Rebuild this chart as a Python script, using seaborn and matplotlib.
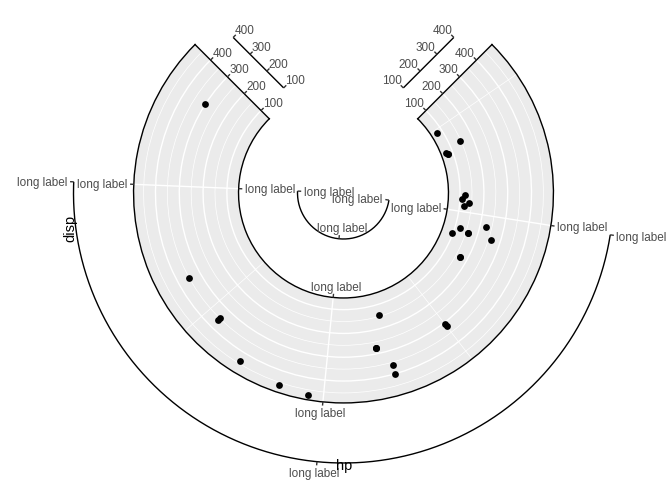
import numpy as np
import pandas as pd
import matplotlib
matplotlib.use("Agg")
import matplotlib.pyplot as plt
import seaborn as sns
from matplotlib.lines import Line2D

# mtcars: horsepower (theta) and displacement (r)
hp = [110, 110, 93, 110, 175, 105, 245, 62, 95, 123, 123, 180, 180, 180,
      205, 215, 230, 66, 52, 65, 97, 150, 150, 245, 175, 66, 91, 113,
      264, 175, 335, 109]
disp = [160, 160, 108, 258, 360, 225, 360, 146.7, 140.8, 167.6, 167.6,
        275.8, 275.8, 275.8, 472, 460, 440, 78.7, 75.7, 71.1, 120.1, 318,
        304, 350, 400, 79, 120.3, 95.1, 351, 145, 301, 121]

theta_breaks = [100, 200, 300]
theta_minor = [50, 150, 250]
theta_labels = ["long label", "long label", "long label"]
r_breaks = [100, 200, 300, 400]
r_minor = [150, 250, 350, 450]
r_labels = ["100", "200", "300", "400"]

cars = pd.DataFrame({"hp": hp, "disp": disp})


def expanded(v, mult=0.05):
    lo, hi = min(v), max(v)
    pad = (hi - lo) * mult
    return lo - pad, hi + pad


h_lo, h_hi = expanded(hp)
r_lo, r_hi = expanded(disp)
START, SPAN = 45.0, 270.0
r_origin = 2 * r_lo - r_hi  # inner radius is half the outer one


def theta_of(v):
    return np.deg2rad(START + (np.asarray(v, float) - h_lo) / (h_hi - h_lo) * SPAN)


cars["theta"] = theta_of(cars["hp"])

sns.set_theme(style="white")
plt.rcParams["font.family"] = ["Liberation Sans", "DejaVu Sans"]

W, H = 672, 480
fig = plt.figure(figsize=(W / 100, H / 100), dpi=100)
CX, CY, R = 343.5, 287, 214  # panel centre (px from bottom left), outer radius
ax = fig.add_axes([(CX - R) / W, 46 / H, 2 * R / W, 2 * R / H], projection="polar")

sns.scatterplot(data=cars, x="theta", y="disp", ax=ax, color="black",
                s=24, linewidth=0, zorder=3)
ax.set_xlabel("")
ax.set_ylabel("")

ax.set_theta_zero_location("N")
ax.set_theta_direction(-1)
ax.set_thetamin(START)
ax.set_thetamax(START + SPAN)
ax.set_rlim(r_lo, r_hi)
ax.set_rorigin(r_origin)

# put the centre of the circle where the reference has it
c = ax.transData.transform((0, r_origin))
pos = ax.get_position()
ax.set_position([pos.x0 + (CX - c[0]) / W, pos.y0 + (CY - c[1]) / H,
                 pos.width, pos.height])

ax.patch.set_facecolor("#EBEBEB")
ax.set_xticks(theta_of(theta_breaks))
ax.set_xticks(theta_of(theta_minor), minor=True)
ax.set_yticks(r_breaks)
ax.set_yticks(r_minor, minor=True)
ax.set_xticklabels([])
ax.set_yticklabels([])
ax.tick_params(which="both", length=0)
ax.set_axisbelow(True)
ax.grid(True, which="major", color="white", linewidth=1.0)
ax.grid(True, which="minor", color="white", linewidth=0.5)
for s in ax.spines.values():
    s.set_color("black")
    s.set_linewidth(1.0)

# ---- guides drawn by hand --------------------------------------------------
to_fig = fig.transFigure.inverted()
renderer = fig.canvas.get_renderer()
centre = ax.transData.transform((0, r_origin))
R_px = ax.transData.transform((0, r_hi))[1] - centre[1]
TICK, GAP = 3.67, 2.93
GREY30 = "#4D4D4D"


def r_at(px):
    return r_origin + px / R_px * (r_hi - r_origin)


def to_disp(theta, r):
    return ax.transData.transform((theta, r))


def line(xy, color="black", lw=1.0):
    xy = to_fig.transform(np.asarray(xy))
    fig.add_artist(Line2D(xy[:, 0], xy[:, 1], color=color, lw=lw,
                          transform=fig.transFigure, solid_capstyle="butt"))


def label(anchor, s, hjust, vjust, size=8.45, color=GREY30):
    # grid-like justification: vjust 0 = baseline, 1 = top of ascenders
    t = fig.text(0, 0, s, ha="center", va="baseline", fontsize=size, color=color)
    w = t.get_window_extent(renderer).width
    asc = size / 72 * fig.dpi * 0.72
    p = np.asarray(anchor) + [(0.5 - hjust) * w, -vjust * asc]
    t.set_position(to_fig.transform(p))


def theta_axis(r, outward, draw_line):
    if draw_line:
        tt = np.linspace(theta_of(theta_breaks[0]), theta_of(theta_breaks[-1]), 200)
        line([to_disp(t, r) for t in tt])
    sgn = 1 if outward else -1
    for t, lab in zip(theta_of(theta_breaks), theta_labels):
        u = np.array([np.sin(t), np.cos(t)]) * sgn
        p0 = to_disp(t, r)
        line([p0, p0 + u * TICK], color="#333333")
        label(p0 + u * (TICK + GAP), lab, 0.5 - u[0] / 2, 0.5 - u[1] / 2)


def r_axis(theta, side, offset_px, draw_line):
    u = np.array([np.sin(theta), np.cos(theta)])
    p = np.array([-u[1], u[0]]) * side
    shift = p * offset_px
    if draw_line:
        line([to_disp(theta, r_breaks[0]) + shift,
              to_disp(theta, r_breaks[-1]) + shift])
    for r, lab in zip(r_breaks, r_labels):
        p0 = to_disp(theta, r) + shift
        line([p0, p0 + p * TICK], color="#333333")
        label(p0 + p * (TICK + GAP), lab, 0.5 - p[0] / 2, 0.5 - p[1] / 2)


t_start, t_end = np.deg2rad(START), np.deg2rad(START + SPAN)

theta_axis(r_hi, outward=True, draw_line=False)
theta_axis(r_lo, outward=False, draw_line=False)
theta_axis(r_at(46), outward=False, draw_line=True)
theta_axis(r_at(270), outward=True, draw_line=True)

r_axis(t_start, 1, 0, False)
r_axis(t_end, -1, 0, False)
r_axis(t_start, 1, 32, True)
r_axis(t_end, -1, 32, True)

fig.text(344 / W, (H - 466) / H, "hp", ha="center", va="center",
         fontsize=10.56, color="black")
fig.text(70 / W, (H - 228) / H, "disp", ha="center", va="center",
         fontsize=10.56, color="black", rotation=90)

fig.savefig("out.png", dpi=100)
